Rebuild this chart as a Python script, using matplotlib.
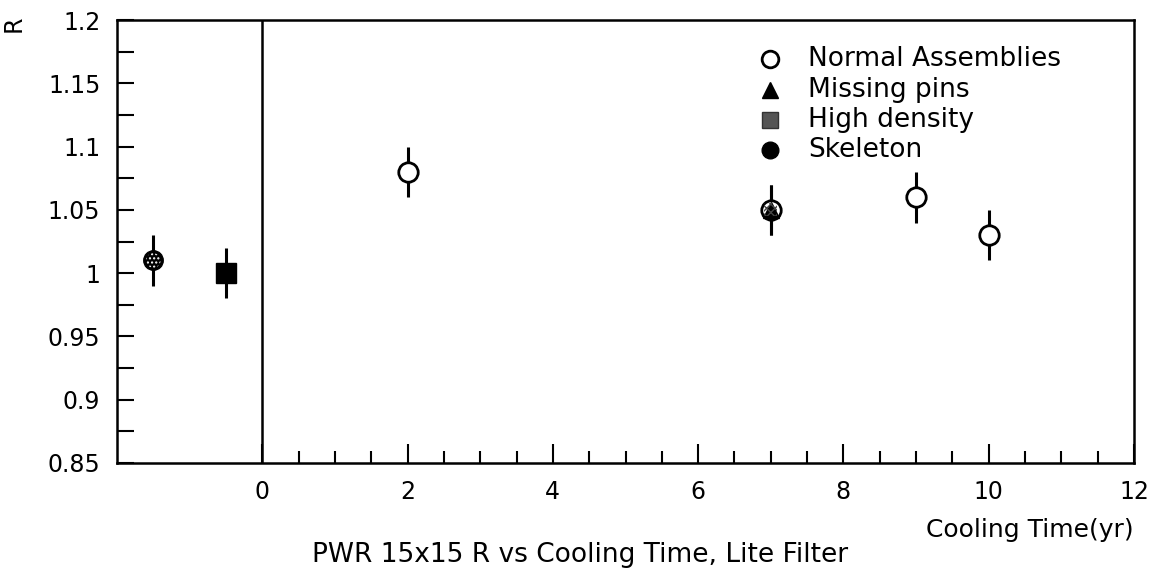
import matplotlib
matplotlib.use("Agg")
import matplotlib.pyplot as plt
import numpy as np

# Data
normal_x = [2, 7, 9, 10]
normal_y = [1.08, 1.05, 1.06, 1.03]
normal_err = [0.02, 0.02, 0.02, 0.02]

missing_x = [7]
missing_y = [1.05]
missing_err = [0.02]

highdens_x = [-0.5]
highdens_y = [1.00]
highdens_err = [0.02]

skeleton_x = [-1.5]
skeleton_y = [1.01]
skeleton_err = [0.02]

legend_labels = ["Normal Assemblies", "Missing pins", "High density", "Skeleton"]
ytick_vals = [0.85, 0.9, 0.95, 1.0, 1.05, 1.1, 1.15, 1.2]
ytick_labels = ["0.85", "0.9", "0.95", "1", "1.05", "1.1", "1.15", "1.2"]
xtick_vals = [0, 2, 4, 6, 8, 10, 12]

plt.rcParams['font.family'] = ['DejaVu Sans']
fig = plt.figure(figsize=(11.62, 5.72), dpi=100)
ax = fig.add_axes([117/1162, 1-463/572, (1134-117)/1162, (463-20)/572])

ax.set_xlim(-2, 12)
ax.set_ylim(0.85, 1.2)

# error bars
for xs, ys, es in [(normal_x, normal_y, normal_err), (missing_x, missing_y, missing_err),
                   (highdens_x, highdens_y, highdens_err), (skeleton_x, skeleton_y, skeleton_err)]:
    ax.errorbar(xs, ys, yerr=es, fmt='none', ecolor='black', elinewidth=2.2, capsize=0, zorder=2)

# markers
ax.plot(normal_x, normal_y, 'o', ms=14, mfc='white', mec='black', mew=2, zorder=3)
ax.plot(missing_x, missing_y, '^', ms=12, mfc='black', mec='black', zorder=4)
ax.scatter(missing_x, missing_y, s=90, marker='s', facecolor='none', edgecolor='#444444',
           hatch='xxxx', linewidth=0, zorder=5)
ax.plot(highdens_x, highdens_y, 's', ms=15, mfc='black', mec='black', zorder=3)
ax.plot(skeleton_x, skeleton_y, 'o', ms=14, mfc='black', mec='black', zorder=3)
ax.scatter(skeleton_x, skeleton_y, s=110, marker='o', facecolor='none', edgecolor='white',
           hatch='....', linewidth=0, zorder=4)

# vertical line at 0
ax.axvline(0, color='black', lw=1.8, zorder=1)

# spines
for s in ax.spines.values():
    s.set_linewidth(1.8)

# ticks
ax.set_yticks(ytick_vals)
ax.set_yticklabels(ytick_labels)
ax.set_yticks(np.arange(0.85, 1.2001, 0.025), minor=True)
ax.set_xticks(xtick_vals)
ax.set_xticklabels([str(v) for v in xtick_vals])
ax.set_xticks(np.arange(0, 12.001, 0.5), minor=True)
ax.tick_params(axis='both', which='both', direction='in', width=1.5, labelsize=17)
ax.tick_params(axis='y', which='major', length=12, pad=12)
ax.tick_params(axis='y', which='minor', length=12)
ax.tick_params(axis='x', which='major', length=14, pad=12)
ax.tick_params(axis='x', which='minor', length=9)

# labels
fig.text(14/1162, 1-24/572, "R", rotation=90, fontsize=17, ha='center', va='center')
fig.text(1030/1162, 1-530/572, "Cooling Time(yr)", fontsize=18, ha='center', va='center')
fig.text(580/1162, 1-555/572, "PWR 15x15 R vs Cooling Time, Lite Filter", fontsize=19,
         ha='center', va='center')

# legend (manual)
leg_x_marker = 770
leg_x_text = 808
leg_rows = [59, 90, 120, 150]
for i, (lab, row) in enumerate(zip(legend_labels, leg_rows)):
    yf = 1 - row/572
    xm = leg_x_marker/1162
    if i == 0:
        fig.lines.append(plt.Line2D([xm], [yf], marker='o', ms=12, mfc='white', mec='black', mew=2,
                                    transform=fig.transFigure))
    elif i == 1:
        fig.lines.append(plt.Line2D([xm], [yf], marker='^', ms=12, mfc='black', mec='black',
                                    transform=fig.transFigure))
    elif i == 2:
        fig.lines.append(plt.Line2D([xm], [yf], marker='s', ms=11, mfc='#555555', mec='#333333',
                                    transform=fig.transFigure))
    else:
        fig.lines.append(plt.Line2D([xm], [yf], marker='o', ms=12, mfc='black', mec='black',
                                    transform=fig.transFigure))
    fig.text(leg_x_text/1162, yf, lab, fontsize=19, ha='left', va='center')

fig.savefig("out.png", dpi=100)
